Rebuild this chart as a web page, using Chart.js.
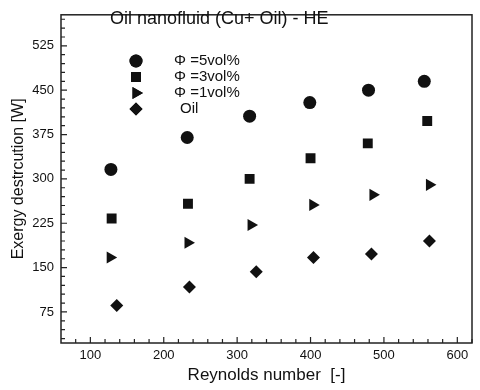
<!DOCTYPE html>
<html>
<head>
<meta charset="utf-8">
<script src="https://cdn.jsdelivr.net/npm/chart.js@4/dist/chart.umd.min.js"></script>
<style>
    html, body { margin: 0; padding: 0; background: #fff; }
    canvas { display: block; }
</style>
</head>
<body>
<canvas id="exergyChart" width="480" height="390"></canvas>
<script>
// Exergy destruction vs Reynolds number

const re5 = [128, 232, 317, 399, 479, 555];
const exergy5 = [316, 370, 406, 429, 450, 465];

const re3 = [129, 233, 317, 400, 478, 559];
const exergy3 = [233, 258, 300, 335, 360, 398];

const re1 = [127, 233, 319, 403, 485, 562];
const exergy1 = [167, 192, 222, 256, 273, 290];

const reOil = [136, 235, 326, 404, 483, 562];
const exergyOil = [86, 117, 143, 167, 173, 195];

const seriesLabels = ['\u03A6 =5vol%', '\u03A6 =3vol%', '\u03A6 =1vol%', 'Oil'];
const xTicks = [100, 200, 300, 400, 500, 600];
const yTicks = [75, 150, 225, 300, 375, 450, 525];

const FONT = '"Liberation Sans", Arial, sans-serif';
const INK = '#111';

function toPoints(xs, ys) {
    return xs.map((x, i) => ({ x: x, y: ys[i] }));
}

// Frame, inward ticks, title and legend inside the plot
const framePlugin = {
    id: 'frame',
    afterDraw(chart) {
        const ctx = chart.ctx;
        const area = chart.chartArea;
        const xs = chart.scales.x;
        const ys = chart.scales.y;
        ctx.save();
        ctx.strokeStyle = '#222';
        ctx.lineWidth = 1.5;
        ctx.strokeRect(area.left, area.top, area.right - area.left, area.bottom - area.top);

        ctx.lineWidth = 1.2;
        ctx.beginPath();
        for (let v = 80; v <= 620; v += 20) {
            const px = xs.getPixelForValue(v);
            const len = (v % 100 === 0) ? 6 : 4;
            ctx.moveTo(px, area.bottom);
            ctx.lineTo(px, area.bottom - len);
        }
        for (let v = 30; v <= 570; v += 15) {
            const py = ys.getPixelForValue(v);
            const len = ((v - 75) % 75 === 0) ? 6 : 4;
            ctx.moveTo(area.left, py);
            ctx.lineTo(area.left + len, py);
        }
        ctx.stroke();

        // title
        ctx.fillStyle = INK;
        ctx.font = '18px ' + FONT;
        ctx.textBaseline = 'middle';
        ctx.textAlign = 'left';
        ctx.fillText('Oil nanofluid (Cu+ Oil) - HE', area.left + 49, 19);

        // legend
        ctx.font = '15px ' + FONT;
        chart.data.datasets.forEach((ds, i) => {
            const y = 61 + i * 16;
            Chart.helpers.drawPoint(ctx, {
                pointStyle: ds.pointStyle,
                radius: ds.pointRadius,
                rotation: ds.rotation || 0,
                borderWidth: 0
            }, area.left + 75, y);
            ctx.fillStyle = INK;
            ctx.fill();
            const tx = i === 3 ? area.left + 119 : area.left + 113;
            ctx.fillText(ds.label, tx, y);
        });
        ctx.restore();
    }
};

new Chart(document.getElementById('exergyChart'), {
    type: 'scatter',
    data: {
        datasets: [{
            label: seriesLabels[0],
            data: toPoints(re5, exergy5),
            pointStyle: 'circle',
            pointRadius: 6.5,
            backgroundColor: INK,
            borderWidth: 0
        }, {
            label: seriesLabels[1],
            data: toPoints(re3, exergy3),
            pointStyle: 'rect',
            pointRadius: 7,
            backgroundColor: INK,
            borderWidth: 0
        }, {
            label: seriesLabels[2],
            data: toPoints(re1, exergy1),
            pointStyle: 'triangle',
            rotation: 90,
            pointRotation: 90,
            pointRadius: 7,
            backgroundColor: INK,
            borderWidth: 0
        }, {
            label: seriesLabels[3],
            data: toPoints(reOil, exergyOil),
            pointStyle: 'rectRot',
            pointRadius: 6.5,
            backgroundColor: INK,
            borderWidth: 0
        }]
    },
    options: {
        responsive: false,
        devicePixelRatio: 1,
        animation: false,
        layout: { padding: { left: 0, right: 8, top: 5, bottom: 0 } },
        plugins: {
            legend: { display: false },
            tooltip: { enabled: false }
        },
        scales: {
            x: {
                type: 'linear',
                min: 60,
                max: 620,
                afterBuildTicks: function(scale) {
                    scale.ticks = xTicks.map(v => ({ value: v }));
                },
                afterFit: function(scale) { scale.height = 47; },
                grid: { display: false, drawTicks: false },
                border: { display: false },
                ticks: {
                    color: INK,
                    padding: 5,
                    font: { family: FONT, size: 13 }
                },
                title: {
                    display: true,
                    text: 'Reynolds number  [-]',
                    color: INK,
                    padding: { top: 4 },
                    font: { family: FONT, size: 17 }
                }
            },
            y: {
                type: 'linear',
                min: 22.5,
                max: 577.5,
                afterBuildTicks: function(scale) {
                    scale.ticks = yTicks.map(v => ({ value: v }));
                },
                afterFit: function(scale) { scale.width = 61; },
                grid: { display: false, drawTicks: false },
                border: { display: false },
                ticks: {
                    color: INK,
                    padding: 7,
                    font: { family: FONT, size: 13 }
                },
                title: {
                    display: true,
                    text: 'Exergy destrcution [W]',
                    color: INK,
                    padding: { top: 9, bottom: 0 },
                    font: { family: FONT, size: 16 }
                }
            }
        }
    },
    plugins: [framePlugin]
});
</script>
</body>
</html>
